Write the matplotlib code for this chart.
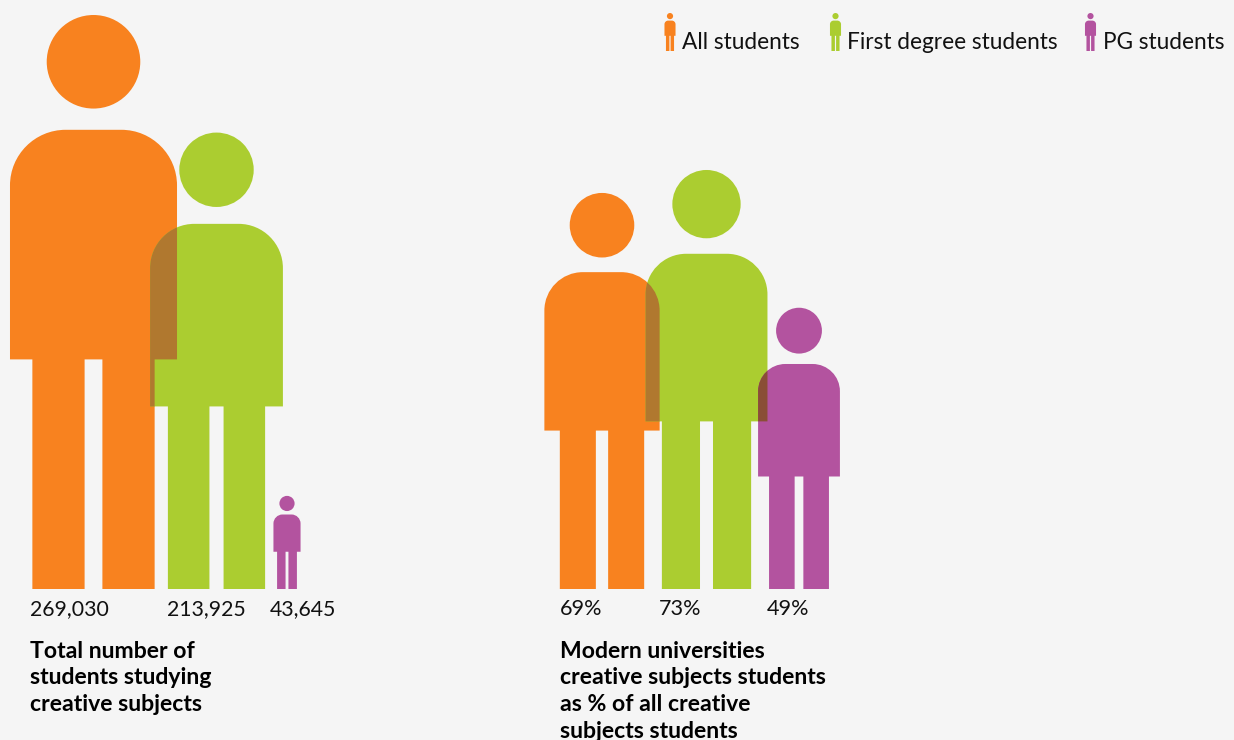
import matplotlib
matplotlib.use("Agg")
import matplotlib.pyplot as plt
from matplotlib.patches import PathPatch
from matplotlib.path import Path

# student numbers and percentage shares
group_names = ["All students", "First degree students", "PG students"]
total_students = [269030, 213925, 43645]
modern_share = [69, 73, 49]
total_title = "Total number of\nstudents studying\ncreative subjects"
share_title = "Modern universities\ncreative subjects students\nas % of all creative\nsubjects students"

BG = "#F5F5F5"
COLORS = ["#F8821F", "#ABCD30", "#B3539F"]
OVERLAP_COLORS = ["#B0782F", "#8A4E36"]  # orange/green, green/purple
FONT = "Lato"
BASELINE = 589
PX_PER_STUDENT = 574 / 269030
PX_PER_PERCENT = 5.74

total_x = [93.5, 216.5, 287]
share_x = [602, 706.5, 799]
legend_x = [670, 835.5, 1090.5]


def person_path(cx, foot, h):
    # one outline for torso and legs plus a circle for the head, y grows downwards
    half = 0.1455 * h
    r = 0.097 * h
    k = 0.5523 * r
    top = foot - 0.80 * h
    waist = foot - 0.40 * h
    outer = 0.1065 * h
    inner = 0.0155 * h

    verts = [
        (cx - half, waist),
        (cx - half, top + r),
        (cx - half, top + r - k), (cx - half + r - k, top), (cx - half + r, top),
        (cx + half - r, top),
        (cx + half - r + k, top), (cx + half, top + r - k), (cx + half, top + r),
        (cx + half, waist),
        (cx + outer, waist),
        (cx + outer, foot),
        (cx + inner, foot),
        (cx + inner, waist),
        (cx - inner, waist),
        (cx - inner, foot),
        (cx - outer, foot),
        (cx - outer, waist),
        (cx - half, waist),
    ]
    codes = [Path.MOVETO, Path.LINETO,
             Path.CURVE4, Path.CURVE4, Path.CURVE4,
             Path.LINETO,
             Path.CURVE4, Path.CURVE4, Path.CURVE4] + [Path.LINETO] * 9 + [Path.CLOSEPOLY]
    body = Path(verts, codes)

    head_r = 0.0815 * h
    head = Path.circle((cx, foot - h + head_r), head_r)
    return Path.make_compound_path(head, body)


def draw_group(ax, xs, heights):
    paths = [person_path(x, BASELINE, h) for x, h in zip(xs, heights)]
    for path, color in zip(paths, COLORS):
        ax.add_patch(PathPatch(path, facecolor=color, edgecolor="none"))
    # darker tone where two neighbouring figures cross
    for i, color in enumerate(OVERLAP_COLORS):
        patch = PathPatch(paths[i], facecolor=color, edgecolor="none", zorder=3)
        ax.add_patch(patch)
        patch.set_clip_path(paths[i + 1], ax.transData)


fig = plt.figure(figsize=(12.34, 7.40), dpi=100, facecolor=BG)
ax = fig.add_axes([0, 0, 1, 1])
ax.set_xlim(0, 1234)
ax.set_ylim(740, 0)
ax.axis("off")

draw_group(ax, total_x, [v * PX_PER_STUDENT for v in total_students])
draw_group(ax, share_x, [v * PX_PER_PERCENT for v in modern_share])

# value labels under the figures
for x, v in zip([30, 167, 270], total_students):
    ax.text(x, 615, f"{v:,}", fontsize=15.3, family=FONT, color="#111111", va="baseline")
for x, v in zip([560, 659, 767], modern_share):
    ax.text(x, 615, f"{v}%", fontsize=15.6, family=FONT, color="#111111", va="baseline")

# group titles, one text per line to hold the 27px leading
for x, title in [(30, total_title), (560, share_title)]:
    for i, line in enumerate(title.split("\n")):
        ax.text(x, 657.5 + i * 26.7, line, fontsize=16.6, family=FONT, weight="bold",
                color="#000000", va="baseline")

# legend
for x, tx, name, color in zip(legend_x, [682, 847, 1103], group_names, COLORS):
    ax.add_patch(PathPatch(person_path(x, 51, 38), facecolor=color, edgecolor="none"))
    ax.text(tx, 49, name, fontsize=16.3, family=FONT, color="#111111", va="baseline")

fig.savefig("out.png", dpi=100, facecolor=BG)
